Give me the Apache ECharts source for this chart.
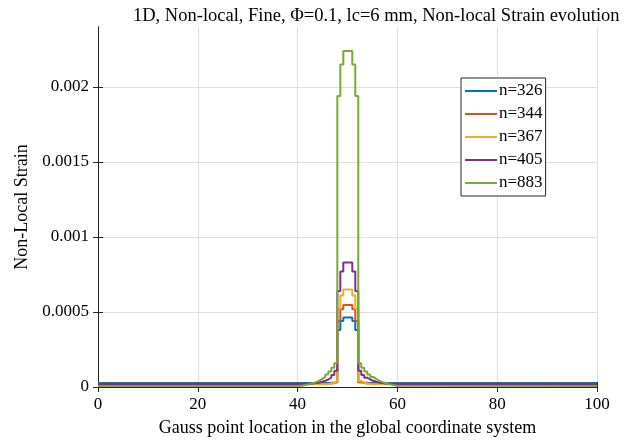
<!DOCTYPE html>
<html>
<head>
<meta charset="utf-8">
<script src="https://cdn.jsdelivr.net/npm/echarts@6/dist/echarts.min.js"></script>
<style>html,body{margin:0;padding:0;background:#fff;}#c{width:637px;height:446px;}</style>
</head>
<body>
<div id="c"></div>
<script>
// Step edges (left boundary of each constant segment), global coordinate
var edges = [0, 40.16, 40.76, 41.36, 41.96, 42.56, 43.16, 43.76, 44.36, 44.96, 45.56, 46.16, 46.76, 47.36,
  47.96, 48.56, 49.16, 50.96, 51.56,
  52.16, 52.76, 53.36, 53.96, 54.56, 55.16, 55.76, 56.36, 56.96, 57.56, 58.16, 58.76, 59.36,
  59.96, 100];

var seriesNames = ['n=326', 'n=344', 'n=367', 'n=405', 'n=883'];

var n326 = [0.000027, 0.000027, 0.000027, 0.000027, 0.000027, 0.000027, 0.000027, 0.000027, 0.000027, 0.000027, 0.000027, 0.000028, 0.000029, 0.000031,
  0.00038, 0.00044, 0.000463, 0.00044, 0.00038,
  0.000031, 0.000029, 0.000028, 0.000027, 0.000027, 0.000027, 0.000027, 0.000027, 0.000027, 0.000027, 0.000027, 0.000027, 0.000027,
  0.000027, 0.000027];
var n344 = [0.000022, 0.000022, 0.000022, 0.000022, 0.000022, 0.000022, 0.000022, 0.000022, 0.000022, 0.000022, 0.000022, 0.000023, 0.000026, 0.000034,
  0.00044, 0.000518, 0.000547, 0.000518, 0.00044,
  0.000034, 0.000026, 0.000023, 0.000022, 0.000022, 0.000022, 0.000022, 0.000022, 0.000022, 0.000022, 0.000022, 0.000022, 0.000022,
  0.000022, 0.000022];
var n367 = [0.000018, 0.000018, 0.000018, 0.000018, 0.000018, 0.000018, 0.000018, 0.000018, 0.000018, 0.000019, 0.00002, 0.000023, 0.000028, 0.00004,
  0.00052, 0.00061, 0.00065, 0.00061, 0.00052,
  0.00004, 0.000028, 0.000023, 0.00002, 0.000019, 0.000018, 0.000018, 0.000018, 0.000018, 0.000018, 0.000018, 0.000018, 0.000018,
  0.000018, 0.000018];
var n405 = [0.00002, 0.00002, 0.00002, 0.000021, 0.000022, 0.000024, 0.000027, 0.00003, 0.000035, 0.000042, 0.00005, 0.000062, 0.00008, 0.000108,
  0.00064, 0.00077, 0.00083, 0.00077, 0.00064,
  0.000108, 0.00008, 0.000062, 0.00005, 0.000042, 0.000035, 0.00003, 0.000027, 0.000024, 0.000022, 0.000021, 0.00002, 0.00002,
  0.00002, 0.00002];
var n883 = [0.000006, 0.000009, 0.000012, 0.000016, 0.000021, 0.000027, 0.000034, 0.000043, 0.000054, 0.000067, 0.000083, 0.000103, 0.000128, 0.000158,
  0.00194, 0.00215, 0.00224, 0.00215, 0.00194,
  0.000158, 0.000128, 0.000103, 0.000083, 0.000067, 0.000054, 0.000043, 0.000034, 0.000027, 0.000021, 0.000016, 0.000012, 0.000009,
  0.000006, 0.000006];

var xTicks = [0, 20, 40, 60, 80, 100];
var yTicks = [0, 0.0005, 0.001, 0.0015, 0.002];

var colors = ['#0072BD', '#D95319', '#EDB120', '#7E2F8E', '#77AC30'];
var allValues = [n326, n344, n367, n405, n883];

var FONT = 'Liberation Serif';
var AX = '#262626';

function pairs(vals) {
  return edges.map(function (x, i) { return [x, vals[i]]; });
}

var chart = echarts.init(document.getElementById('c'));

var series = seriesNames.map(function (name, k) {
  return {
    name: name,
    type: 'line',
    step: 'end',
    symbol: 'none',
    showSymbol: false,
    data: pairs(allValues[k]),
    lineStyle: { color: colors[k], width: 2 },
    itemStyle: { color: colors[k] },
    z: 3 + k
  };
});

function yFmt(v) {
  var r = parseFloat(Number(v).toPrecision(6));
  for (var i = 0; i < yTicks.length; i++) { if (Math.abs(yTicks[i] - r) < 1e-9) return String(yTicks[i]); }
  return '';
}

chart.setOption({
  animation: false,
  backgroundColor: '#ffffff',
  title: {
    text: '1D, Non-local, Fine, \u03A6=0.1, lc=6 mm, Non-local Strain evolution',
    left: 128, top: 2,
    textStyle: { fontFamily: FONT, fontSize: 18.5, fontWeight: 'normal', color: '#000' }
  },
  grid: { left: 98, right: 40, top: 27, bottom: 59, containLabel: false },
  legend: {
    orient: 'vertical',
    left: 461, top: 78,
    data: seriesNames.map(function (n) { return { name: n, icon: 'rect' }; }),
    backgroundColor: '#ffffff',
    borderColor: AX,
    borderWidth: 1,
    borderRadius: 0,
    padding: [4, 3, 4, 4],
    itemGap: 5,
    itemWidth: 32,
    itemHeight: 2,
    textStyle: { fontFamily: FONT, fontSize: 17, color: '#000', lineHeight: 18, padding: [0, 0, 0, -3] }
  },
  xAxis: [{
    type: 'value', min: 0, max: 100, interval: 20,
    name: 'Gauss point location in the global coordinate system',
    nameLocation: 'middle', nameGap: 32,
    nameTextStyle: { fontFamily: FONT, fontSize: 18, color: '#000' },
    axisLine: { show: true, lineStyle: { color: AX, width: 1 } },
    axisTick: { show: true, inside: true, length: 5, lineStyle: { color: AX } },
    axisLabel: { fontFamily: FONT, fontSize: 17, color: '#000', margin: 9,
      formatter: function (v) { return xTicks.indexOf(v) >= 0 ? String(v) : ''; } },
    splitLine: { show: true, lineStyle: { color: '#dfdfdf', width: 1 } }
  }, {
    type: 'value', min: 0, max: 100, interval: 20, position: 'top',
    axisLine: { show: true, lineStyle: { color: AX, width: 1 } },
    axisTick: { show: true, inside: true, length: 5, lineStyle: { color: AX } },
    axisLabel: { show: false }, splitLine: { show: false }
  }],
  yAxis: [{
    type: 'value', min: 0, max: 0.0024, interval: 0.0005,
    name: 'Non-Local Strain',
    nameLocation: 'middle', nameGap: 66, nameRotate: 90,
    nameTextStyle: { fontFamily: FONT, fontSize: 18, color: '#000' },
    axisLine: { show: true, lineStyle: { color: AX, width: 1 } },
    axisTick: { show: true, inside: true, length: 5, lineStyle: { color: AX }, customValues: yTicks },
    axisLabel: { fontFamily: FONT, fontSize: 17, color: '#000', margin: 9,
      customValues: yTicks, formatter: yFmt },
    splitLine: { show: true, lineStyle: { color: '#dfdfdf', width: 1 } }
  }, {
    type: 'value', min: 0, max: 0.0024, interval: 0.0005, position: 'right',
    axisLine: { show: true, lineStyle: { color: AX, width: 1 } },
    axisTick: { show: true, inside: true, length: 5, lineStyle: { color: AX }, customValues: yTicks },
    axisLabel: { show: false }, splitLine: { show: false }
  }],
  series: series
});
</script>
</body>
</html>
